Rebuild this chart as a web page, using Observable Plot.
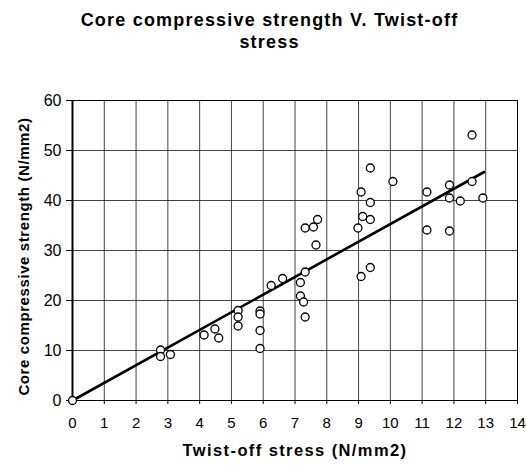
<!DOCTYPE html>
<html>
<head>
<meta charset="utf-8">
<script src="https://cdn.jsdelivr.net/npm/d3@7"></script>
<script src="https://cdn.jsdelivr.net/npm/@observablehq/plot@0.6"></script>
<style>
  html, body { margin: 0; padding: 0; background: #fff; }
  #wrap { position: relative; width: 527px; height: 469px; font-family: "Liberation Sans", Arial, sans-serif; }
  #title { position: absolute; left: 0; top: 9px; width: 539px; text-align: center; font-weight: bold; font-size: 18px; letter-spacing: 1.2px; line-height: 22px; color: #000; }
  svg { display: block; }
</style>
</head>
<body>
<div id="wrap">
  <div id="title">Core compressive strength V. Twist-off<br>stress</div>
</div>
<script>
const twistOff = [0, 2.77, 2.77, 3.08, 4.14, 4.48, 4.60, 5.21, 5.21, 5.21, 5.90, 5.90, 5.90, 5.90,
  6.25, 6.61, 7.17, 7.17, 7.27, 7.32, 7.32, 7.32, 7.58, 7.66, 7.71, 8.98, 9.08, 9.13, 9.37, 9.37,
  9.37, 9.08, 9.37, 10.08, 11.15, 11.15, 11.86, 11.86, 11.86, 12.2, 12.57, 12.57, 12.91];
const coreStrength = [0, 10.1, 8.8, 9.2, 13.1, 14.3, 12.5, 18, 16.7, 14.9, 17.9, 17.3, 14.0, 10.4,
  23.0, 24.4, 23.6, 20.9, 19.7, 16.7, 25.7, 34.5, 34.7, 31.1, 36.2, 34.5, 41.7, 36.8, 46.5, 39.6,
  36.2, 24.8, 26.6, 43.8, 41.7, 34.1, 43.1, 40.5, 33.9, 39.9, 53.1, 43.8, 40.5];
const fitX = [0, 12.95];
const fitY = [0, 45.7];
const xTicks = [0,1,2,3,4,5,6,7,8,9,10,11,12,13,14];
const yTicks = [0,10,20,30,40,50,60];

const points = twistOff.map((x, i) => ({x, y: coreStrength[i]}));
const fit = fitX.map((x, i) => ({x, y: fitY[i]}));

const chart = Plot.plot({
  width: 527,
  height: 469,
  marginLeft: 72,
  marginRight: 10,
  marginTop: 100,
  marginBottom: 69,
  style: { fontFamily: "'Liberation Sans', Arial, sans-serif", fontSize: "15px", color: "#000", background: "#fff" },
  x: { domain: [0, 14], label: null },
  y: { domain: [0, 60], label: null },
  marks: [
    Plot.gridX(xTicks, { stroke: "#222", strokeOpacity: 0.85, strokeWidth: 1 }),
    Plot.gridY(yTicks, { stroke: "#222", strokeOpacity: 0.85, strokeWidth: 1 }),
    Plot.frame({ stroke: "#000", strokeWidth: 1 }),
    Plot.ruleX([0], { stroke: "#000", strokeWidth: 2 }),
    Plot.axisX({ ticks: xTicks, tickSize: 4, tickPadding: 13, fontSize: 15, label: null }),
    Plot.axisY({ ticks: yTicks, tickSize: 6, tickPadding: 5, fontSize: 16, label: null }),
    Plot.line(fit, { x: "x", y: "y", stroke: "#000", strokeWidth: 2.6 }),
    Plot.dot(points, { x: "x", y: "y", r: 4, stroke: "#000", fill: "#fff", strokeWidth: 1.3 }),
    Plot.text(["Twist-off stress (N/mm2)"], { frameAnchor: "bottom", dy: 55, fontWeight: "bold", fontSize: 16.5, textAnchor: "middle" }),
    Plot.text(["Core compressive strength (N/mm2)"], { frameAnchor: "left", dx: -48, dy: 6, rotate: -90, textAnchor: "middle", fontWeight: "bold", fontSize: 15 })
  ]
});
document.getElementById("wrap").prepend(chart);
// letter-spacing for axis titles
chart.querySelectorAll("text").forEach(t => {
  if (t.textContent === "Twist-off stress (N/mm2)") t.setAttribute("letter-spacing", "1.4");
  if (t.textContent === "Core compressive strength (N/mm2)") t.setAttribute("letter-spacing", "0.6");
});
</script>
</body>
</html>
